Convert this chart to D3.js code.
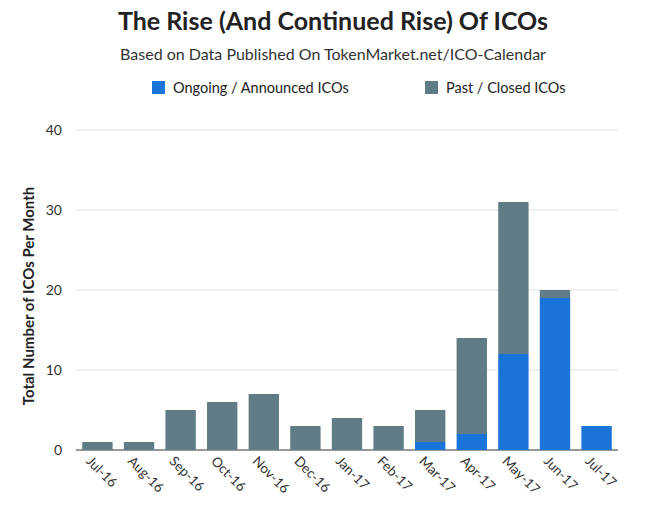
<!DOCTYPE html>
<html><head><meta charset="utf-8">
<script src="https://cdn.jsdelivr.net/npm/d3@7"></script>
<style>body{margin:0;background:#fff;font-family:Lato,"Open Sans",sans-serif}</style>
</head><body><svg id="chart" width="650" height="518"></svg>
<script>
'use strict';
const months = ['Jul-16','Aug-16','Sep-16','Oct-16','Nov-16','Dec-16','Jan-17','Feb-17','Mar-17','Apr-17','May-17','Jun-17','Jul-17'];
const ongoing = [0,0,0,0,0,0,0,0,1,2,12,19,3];
const past = [1,1,5,6,7,3,4,3,4,12,19,1,0];
const yTicks = [0,10,20,30,40];

const svg = d3.select('#chart');
const x = d3.scaleBand().domain(months).range([76, 618]).paddingInner(0.27).paddingOuter(0.15);
const y = d3.scaleLinear().domain([0, 40]).range([450, 130]);

svg.append('g').selectAll('line').data(yTicks).enter().append('line')
    .attr('x1', 76).attr('x2', 618).attr('y1', d => y(d)).attr('y2', d => y(d))
    .attr('stroke', d => d === 0 ? '#333' : '#e3e3e3');
svg.append('g').selectAll('text').data(yTicks).enter().append('text')
    .attr('x', 62).attr('y', d => y(d) + 5).attr('text-anchor', 'end')
    .attr('font-size', 14).attr('fill', '#333').text(d => d);

const bars = svg.append('g');
bars.selectAll('.on').data(months).enter().append('rect')
    .attr('x', d => x(d)).attr('width', x.bandwidth())
    .attr('y', (d, i) => y(ongoing[i])).attr('height', (d, i) => y(0) - y(ongoing[i]))
    .attr('fill', '#1a73d8');
bars.selectAll('.past').data(months).enter().append('rect')
    .attr('x', d => x(d)).attr('width', x.bandwidth())
    .attr('y', (d, i) => y(ongoing[i] + past[i])).attr('height', (d, i) => y(0) - y(past[i]))
    .attr('fill', '#607d87');

svg.append('g').selectAll('text').data(months).enter().append('text')
    .attr('transform', d => `translate(${x(d) + x.bandwidth() / 2 - 12},${462}) rotate(45)`)
    .attr('font-size', 13.5).attr('fill', '#333').text(d => d);

svg.append('text').attr('transform', 'translate(34,296) rotate(-90)').attr('text-anchor', 'middle')
    .attr('font-size', 15).attr('font-weight', 'bold').attr('fill', '#222').text('Total Number of ICOs Per Month');

svg.append('text').attr('x', 333).attr('y', 30).attr('text-anchor', 'middle')
    .attr('font-size', 25).attr('font-weight', 'bold').attr('fill', '#222').text('The Rise (And Continued Rise) Of ICOs');
svg.append('text').attr('x', 333).attr('y', 60).attr('text-anchor', 'middle')
    .attr('font-size', 16).attr('fill', '#333').text('Based on Data Published On TokenMarket.net/ICO-Calendar');

const legend = [['Ongoing / Announced ICOs', '#1a73d8', 152], ['Past / Closed ICOs', '#607d87', 425]];
legend.forEach(([label, color, lx]) => {
    svg.append('rect').attr('x', lx).attr('y', 81).attr('width', 13).attr('height', 13).attr('fill', color);
    svg.append('text').attr('x', lx + 21).attr('y', 93).attr('font-size', 14.5).attr('fill', '#222').text(label);
});
</script></body></html>
